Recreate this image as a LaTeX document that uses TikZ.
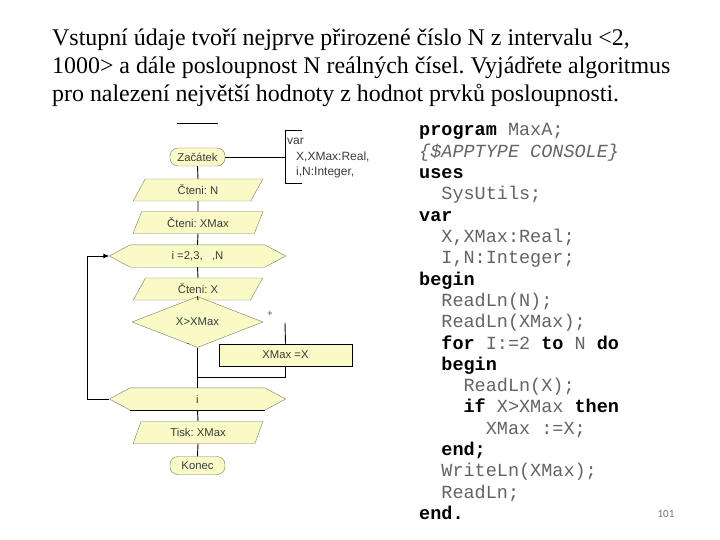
\documentclass[tikz,border=0pt]{standalone}
\usepackage{fontspec}
\setmainfont{Liberation Serif}
\newfontfamily\flowfont{Liberation Sans}
\newfontfamily\codefont{Liberation Mono}
\newfontfamily\numfont{Carlito}
\usetikzlibrary{shapes.geometric,arrows.meta,calc,backgrounds}
\frenchspacing
\definecolor{boxfill}{RGB}{250,250,198}
\definecolor{boxline}{RGB}{125,125,105}
\definecolor{flowtext}{RGB}{60,60,60}
\definecolor{codegray}{RGB}{100,100,100}
\definecolor{pagenum}{RGB}{120,120,120}
\newcommand\kw[1]{{\bfseries\color{black}#1}}
\tikzset{
  conn/.style={draw=black, line width=0.9pt},
  arrowconn/.style={conn, -{Latex[length=6pt,width=5pt]}},
  ftext/.style={font=\flowfont\fontsize{11.3}{13}\selectfont, text=flowtext},
  terminal/.style={ftext, draw=boxline, fill=boxfill, rounded corners=8pt, minimum width=55pt, minimum height=18pt, inner sep=0pt},
  iobox/.style={ftext, draw=boxline, fill=boxfill, trapezium, trapezium left angle=65, trapezium right angle=115, trapezium stretches=true, minimum width=130pt, minimum height=22pt, inner sep=0pt},
  procbox/.style={ftext, draw=black, line width=0.8pt, fill=boxfill, rectangle, minimum width=133pt, minimum height=22pt, inner sep=0pt},
  decbox/.style={ftext, draw=boxline, fill=boxfill, diamond, minimum width=131pt, minimum height=34pt, inner sep=0pt},
  hexbox/.style={ftext, rectangle, minimum width=134pt, minimum height=22pt, inner sep=0pt},
  hexline/.style={draw=boxline, fill=boxfill},
  vartext/.style={ftext, font=\flowfont\fontsize{12}{14}\selectfont, anchor=west, inner sep=0pt},
  title/.style={font=\fontsize{23.9}{28}\selectfont, anchor=base west, inner sep=0pt},
  code/.style={font=\codefont\fontsize{18.5}{21}\selectfont, text=codegray, anchor=base west, inner sep=0pt},
}
\begin{document}
\begin{tikzpicture}[x=1pt,y=-1pt]
\useasboundingbox (0,0) rectangle (720,540);

% title
\node[title] (t1) at (52,46) {Vstupní údaje tvoří nejprve přirozené číslo N z intervalu <2,};
\node[title] (t2) at (52,74) {1000> a dále posloupnost N reálných čísel. Vyjádřete algoritmus};
\node[title] (t3) at (52,102) {pro nalezení největší hodnoty z hodnot prvků posloupnosti.};

% stray top line
\draw[line width=0.8pt] (177,123) -- (218,123);

% flowchart nodes
\node[terminal] (start) at (197.5,157) {Začátek};
\node[iobox] (readN) at (198,190) {Čteni: N};
\node[iobox] (readXMax) at (198,222.5) {Čteni: XMax};
\node[hexbox] (loop) at (197.5,256) {i =2,3,\ \ \ ,N};
\node[iobox] (readX) at (198,289) {Čteni: X};
\node[decbox] (cond) at (197.5,322) {X>XMax};
\node[procbox] (assign) at (285.5,355) {XMax =X};
\node[hexbox] (endloop) at (197.5,399) {i};
\node[iobox] (print) at (198,432.5) {Tisk: XMax};
\node[terminal] (stop) at (197.5,465.5) {Konec};

\coordinate (loopW) at ([xshift=-21pt]loop.west);
\coordinate (endW) at ([xshift=-21pt]endloop.west);
\coordinate (backX) at (87,399);
\coordinate (plusTop) at (285,323);
\coordinate (join) at (197.5,377);
\coordinate (varmid) at (285,157);

\begin{pgfonlayer}{background}
\fill[white] (0,0) rectangle (720,540);
\path[hexline] (loop.north west) -- (loop.north east) -- ([xshift=21pt]loop.east) -- (loop.south east) -- (loop.south west) -- (loopW) -- cycle;
\path[hexline] (endloop.north west) -- (endloop.north east) -- ([xshift=21pt]endloop.east) -- (endloop.south east) -- (endloop.south west) -- (endW) -- cycle;
\end{pgfonlayer}
\draw[line width=1pt] (endloop.south west) -- (endloop.south east);

% labels
\node[ftext, font=\flowfont\fontsize{9}{10}\selectfont] (plus) at (270,314) {+};
\node[ftext, font=\flowfont\fontsize{9}{10}\selectfont] (minus) at (188,345) {-};

% var annotation
\draw[conn] (302,130) -- (285,130) -- (285,183) -- (302,183);
\node[vartext] (varlbl) at (287,141) {var};
\node[vartext] (var1) at (296,157) {X,XMax:Real,};
\node[vartext] (var2) at (296,172) {i,N:Integer,};

% connectors
\draw[conn] (start.east) -- (varmid);
\draw[conn] (start.south) -- (readN.north);
\draw[conn] (readN.south) -- (readXMax.north);
\draw[conn] (readXMax.south) -- (loop.north);
\draw[conn] (loop.south) -- (readX.north);
\draw[conn] (readX.south) -- (cond.north);
\draw[conn] (cond.south) -- (endloop.north);
\draw[conn] (plusTop) -- (assign.north);
\draw[conn] (assign.south) |- (join);
\draw[conn] (endloop.south) -- (print.north);
\draw[conn] (print.south) -- (stop.north);
\draw[arrowconn] (endW) -- (backX) |- (loopW);

% code
\node[code] (c0) at (419,136) {\kw{program} MaxA;};
\node[code] (c1) at (419,157.3) {\itshape\{\$APPTYPE CONSOLE\}};
\node[code] (c2) at (419,178.6) {\kw{uses}};
\node[code] (c3) at (441.2,199.9) {SysUtils;};
\node[code] (c4) at (419,221.2) {\kw{var}};
\node[code] (c5) at (441.2,242.5) {X,XMax:Real;};
\node[code] (c6) at (441.2,263.8) {I,N:Integer;};
\node[code] (c7) at (419,285.1) {\kw{begin}};
\node[code] (c8) at (441.2,306.4) {ReadLn(N);};
\node[code] (c9) at (441.2,327.7) {ReadLn(XMax);};
\node[code] (c10) at (441.2,349) {\kw{for} I:=2 \kw{to} N \kw{do}};
\node[code] (c11) at (441.2,370.3) {\kw{begin}};
\node[code] (c12) at (463.4,391.6) {ReadLn(X);};
\node[code] (c13) at (463.4,412.9) {\kw{if} X>XMax \kw{then}};
\node[code] (c14) at (485.6,434.2) {XMax :=X;};
\node[code] (c15) at (441.2,455.5) {\kw{end;}};
\node[code] (c16) at (441.2,476.8) {WriteLn(XMax);};
\node[code] (c17) at (441.2,498.1) {ReadLn;};
\node[code] (c18) at (419,519.4) {\kw{end.}};

\node[font=\numfont\fontsize{11}{13}\selectfont, text=pagenum] (pg) at (666,514) {101};
\end{tikzpicture}
\end{document}
